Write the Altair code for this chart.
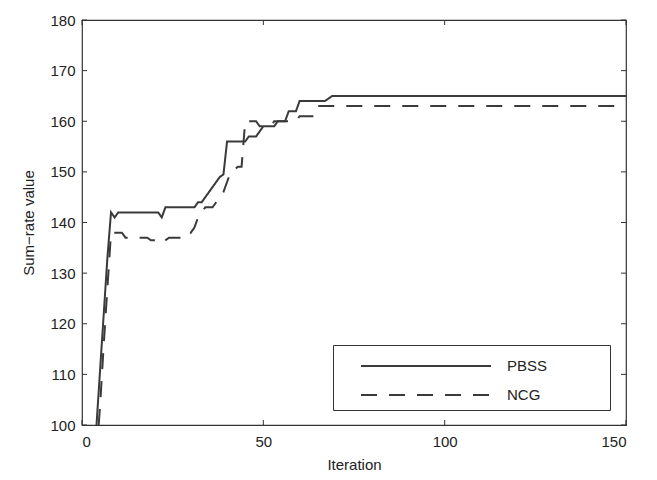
import altair as alt
import pandas as pd

# ---- data ----
pbss_x = [4, 5, 6, 7, 8, 9, 10, 21, 22, 23, 31, 32, 33, 34, 35, 36, 37, 38, 39, 40,
          45, 46, 48, 50, 53, 54, 56, 57, 59, 60, 67, 69, 150]
pbss_y = [100, 111, 122, 133, 142, 141, 142, 142, 141, 143, 143, 144, 144, 145, 146, 147, 148, 149, 149.5, 156,
          156, 157, 157, 159, 159, 160, 160, 162, 162, 164, 164, 165, 165]

ncg_x = [4.6, 5, 6, 7, 8, 11, 12, 18, 19, 21, 22, 24, 28, 29, 30, 31, 32, 33, 34, 36,
         37, 38, 39, 40, 41, 43, 44, 45, 48, 49, 52, 53, 59, 60, 64, 65, 150]
ncg_y = [100, 104, 116, 127, 138, 138, 137, 137, 136.5, 136.5, 136, 137, 137, 138, 138, 139, 141, 142, 143, 143,
         144, 145, 146, 148, 150, 151, 151, 160, 160, 159, 159, 160, 160, 161, 161, 163, 163]

series_names = ["PBSS", "NCG"]
x_ticks = [0, 50, 100, 150]
y_ticks = [100, 110, 120, 130, 140, 150, 160, 170, 180]

df = pd.concat([
    pd.DataFrame({"x": pbss_x, "y": pbss_y, "series": series_names[0]}),
    pd.DataFrame({"x": ncg_x, "y": ncg_y, "series": series_names[1]}),
], ignore_index=True)
xt = pd.DataFrame({"v": x_ticks})
yt = pd.DataFrame({"v": y_ticks})

W, H = 544, 405
FONT = "Liberation Sans"
INK = "#333333"
LINE = "#3a3a3a"
TXT = "#222222"
TICK = 5
PAD = "\u2800" * 5

xscale = alt.Scale(domain=[0, 150], nice=False, zero=False)
yscale = alt.Scale(domain=[100, 180], nice=False, zero=False)
xaxis = alt.Axis(values=x_ticks, title="Iteration", grid=False, ticks=False, domain=False,
                 labelPadding=9, titlePadding=8, labelFontSize=15, titleFontSize=15,
                 labelFont=FONT, titleFont=FONT, titleFontWeight="normal",
                 labelColor=TXT, titleColor=TXT, format="d")
yaxis = alt.Axis(values=y_ticks, title="Sum\u2212rate value", grid=False, ticks=False, domain=False,
                 labelPadding=7, titlePadding=13, labelFontSize=15, titleFontSize=15,
                 labelFont=FONT, titleFont=FONT, titleFontWeight="normal",
                 labelColor=TXT, titleColor=TXT, format="d")

lines = alt.Chart(df).mark_line(strokeWidth=2, color=LINE).encode(
    x=alt.X("x:Q", scale=xscale, axis=xaxis),
    y=alt.Y("y:Q", scale=yscale, axis=yaxis),
    strokeDash=alt.StrokeDash(
        "series:N",
        scale=alt.Scale(domain=series_names, range=[[1, 0], [16, 12]]),
        sort=series_names,
        legend=alt.Legend(
            title=None, orient="none", legendX=251, legendY=325,
            padding=7, fillColor="white", strokeColor=INK, cornerRadius=0,
            symbolType="M0.54,0H10.54", symbolSize=676, symbolStrokeWidth=2,
            symbolStrokeColor=LINE, symbolFillColor=LINE,
            labelOffset=139, labelFontSize=15, labelFont=FONT, labelColor=TXT,
            labelLimit=400, rowPadding=7,
            labelExpr="datum.label + '" + PAD + "'",
        ),
    ),
    detail="series:N",
)

bottom_ticks = alt.Chart(xt).mark_rule(color=INK, strokeWidth=1).encode(
    x=alt.X("v:Q", scale=xscale, axis=xaxis), y=alt.value(H), y2=alt.value(H - TICK))
top_ticks = alt.Chart(xt).mark_rule(color=INK, strokeWidth=1).encode(
    x=alt.X("v:Q", scale=xscale, axis=xaxis), y=alt.value(0), y2=alt.value(TICK))
left_ticks = alt.Chart(yt).mark_rule(color=INK, strokeWidth=1).encode(
    y=alt.Y("v:Q", scale=yscale, axis=yaxis), x=alt.value(0), x2=alt.value(TICK))
right_ticks = alt.Chart(yt).mark_rule(color=INK, strokeWidth=1).encode(
    y=alt.Y("v:Q", scale=yscale, axis=yaxis), x=alt.value(W - TICK), x2=alt.value(W))

chart = alt.layer(bottom_ticks, top_ticks, left_ticks, right_ticks, lines).properties(
    width=W, height=H,
    autosize=alt.AutoSizeParams(type="none"),
    padding={"left": 74, "top": 12, "right": 23, "bottom": 47},
    background="white",
).configure_view(stroke=INK, strokeWidth=1.2)

chart.save("out.html", embed_options={"renderer": "svg", "actions": False})
